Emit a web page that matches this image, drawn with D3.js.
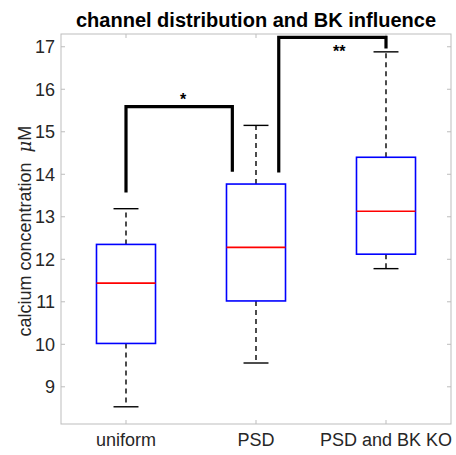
<!DOCTYPE html>
<html>
<head>
<meta charset="utf-8">
<script src="https://cdn.jsdelivr.net/npm/d3@7"></script>
<style>
  body { margin: 0; background: #fff; }
  svg text { font-family: "Liberation Sans", Arial, sans-serif; }
</style>
</head>
<body>
<div id="chart"></div>
<script>
// box statistics
var groups = ["uniform", "PSD", "PSD and BK KO"];
var lowerWhisker = [8.53, 9.56, 11.78];
var q1 = [10.02, 11.02, 12.12];
var median = [11.44, 12.28, 13.13];
var q3 = [12.35, 13.77, 14.40];
var upperWhisker = [13.19, 15.15, 16.88];
var yTicks = [9, 10, 11, 12, 13, 14, 15, 16, 17];

// significance brackets (data units) and their star labels
var brackets = [
  { x1: 1, y1: 13.57, x2: 1.818, y2: 14.06, top: 15.59, label: "*", lx: 1.44, ly: 15.92 },
  { x1: 2.175, y1: 14.04, x2: 3, y2: 16.96, top: 17.22, label: "**", lx: 2.64, ly: 17.03 }
];

var width = 456, height = 455;
var margin = { left: 61, right: 5, top: 34, bottom: 31 };

var svg = d3.select("#chart").append("svg")
  .attr("width", width)
  .attr("height", height);

var x = d3.scaleLinear().domain([0.5, 3.5]).range([margin.left, width - margin.right]);
var y = d3.scaleLinear().domain([8.125, 17.3]).range([height - margin.bottom, margin.top]);

var axisColor = "#bdbdbd";
var textColor = "#262626";

// axis box
svg.append("rect")
  .attr("x", x(0.5)).attr("y", y(17.3))
  .attr("width", x(3.5) - x(0.5)).attr("height", y(8.125) - y(17.3))
  .attr("fill", "none").attr("stroke", axisColor).attr("stroke-width", 1);

// ticks (inward, all four sides)
var tickLen = 4;
yTicks.forEach(function (t) {
  svg.append("line").attr("x1", x(0.5)).attr("x2", x(0.5) + tickLen)
    .attr("y1", y(t)).attr("y2", y(t)).attr("stroke", axisColor);
  svg.append("line").attr("x1", x(3.5)).attr("x2", x(3.5) - tickLen)
    .attr("y1", y(t)).attr("y2", y(t)).attr("stroke", axisColor);
  svg.append("text").attr("x", x(0.5) - 6).attr("y", y(t))
    .attr("dy", "0.35em").attr("text-anchor", "end")
    .attr("font-size", 18).attr("fill", textColor).text(t);
});
groups.forEach(function (g, i) {
  var cx = x(i + 1);
  svg.append("line").attr("x1", cx).attr("x2", cx)
    .attr("y1", y(8.125)).attr("y2", y(8.125) - tickLen).attr("stroke", axisColor);
  svg.append("line").attr("x1", cx).attr("x2", cx)
    .attr("y1", y(17.3)).attr("y2", y(17.3) + tickLen).attr("stroke", axisColor);
  svg.append("text").attr("x", cx).attr("y", height - 9)
    .attr("text-anchor", "middle").attr("font-size", 18)
    .attr("fill", textColor).text(g);
});

// boxes
var boxHalf = 0.227, capHalf = 0.096;
var boxes = svg.selectAll("g.box").data(groups).enter().append("g").attr("class", "box");

boxes.append("line")
  .attr("x1", (d, i) => x(i + 1)).attr("x2", (d, i) => x(i + 1))
  .attr("y1", (d, i) => y(q3[i])).attr("y2", (d, i) => y(upperWhisker[i]))
  .attr("stroke", "#000").attr("stroke-width", 1.4).attr("stroke-dasharray", "5,4");
boxes.append("line")
  .attr("x1", (d, i) => x(i + 1)).attr("x2", (d, i) => x(i + 1))
  .attr("y1", (d, i) => y(q1[i])).attr("y2", (d, i) => y(lowerWhisker[i]))
  .attr("stroke", "#000").attr("stroke-width", 1.4).attr("stroke-dasharray", "5,4");
boxes.append("line")
  .attr("x1", (d, i) => x(i + 1 - capHalf)).attr("x2", (d, i) => x(i + 1 + capHalf))
  .attr("y1", (d, i) => y(upperWhisker[i])).attr("y2", (d, i) => y(upperWhisker[i]))
  .attr("stroke", "#000").attr("stroke-width", 1.4);
boxes.append("line")
  .attr("x1", (d, i) => x(i + 1 - capHalf)).attr("x2", (d, i) => x(i + 1 + capHalf))
  .attr("y1", (d, i) => y(lowerWhisker[i])).attr("y2", (d, i) => y(lowerWhisker[i]))
  .attr("stroke", "#000").attr("stroke-width", 1.4);
boxes.append("rect")
  .attr("x", (d, i) => x(i + 1 - boxHalf))
  .attr("width", x(1 + boxHalf) - x(1 - boxHalf))
  .attr("y", (d, i) => y(q3[i]))
  .attr("height", (d, i) => y(q1[i]) - y(q3[i]))
  .attr("fill", "none").attr("stroke", "#0000ff").attr("stroke-width", 1.6);
boxes.append("line")
  .attr("x1", (d, i) => x(i + 1 - boxHalf)).attr("x2", (d, i) => x(i + 1 + boxHalf))
  .attr("y1", (d, i) => y(median[i])).attr("y2", (d, i) => y(median[i]))
  .attr("stroke", "#ff0000").attr("stroke-width", 1.6);

// significance brackets
brackets.forEach(function (b) {
  svg.append("path")
    .attr("d", d3.line()([
      [x(b.x1), y(b.y1)], [x(b.x1), y(b.top)],
      [x(b.x2), y(b.top)], [x(b.x2), y(b.y2)]
    ]))
    .attr("fill", "none").attr("stroke", "#000").attr("stroke-width", 3.2);
  svg.append("text")
    .attr("x", x(b.lx)).attr("y", y(b.ly))
    .attr("dy", "0.75em")
    .attr("text-anchor", "middle").attr("font-size", 16).attr("font-weight", "bold")
    .text(b.label);
});

// title
svg.append("text")
  .attr("x", (x(0.5) + x(3.5)) / 2).attr("y", 27)
  .attr("text-anchor", "middle").attr("font-size", 20).attr("font-weight", "bold")
  .attr("fill", "#000")
  .text("channel distribution and BK influence");

// y label
var yl = svg.append("text")
  .attr("transform", "translate(31," + y(12.66) + ") rotate(-90)")
  .attr("text-anchor", "middle").attr("font-size", 18).attr("fill", textColor);
yl.append("tspan").text("calcium concentration");
yl.append("tspan").attr("dx", 10).attr("font-style", "italic")
  .attr("font-family", "'DejaVu Serif', serif").text("μ");
yl.append("tspan").text("M");
</script>
</body>
</html>
